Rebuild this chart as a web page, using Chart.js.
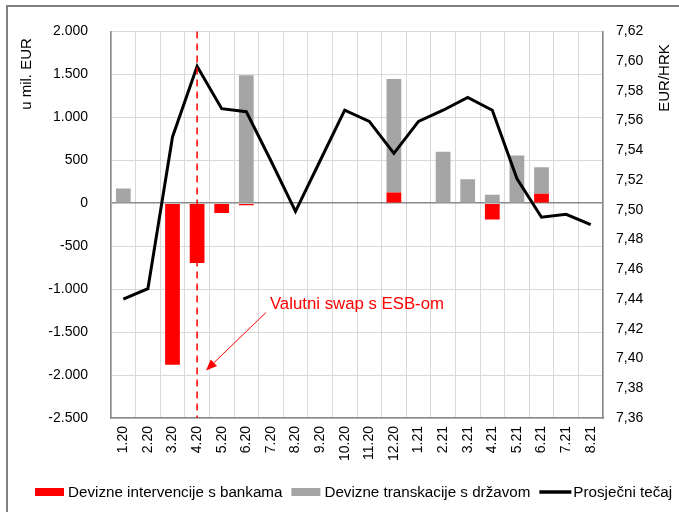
<!DOCTYPE html>
<html>
<head>
<meta charset="utf-8">
<script src="https://cdn.jsdelivr.net/npm/chart.js@4"></script>
<style>
  html, body { margin: 0; padding: 0; background: #fff; }
  #wrap { width: 679px; height: 512px; position: relative; }
</style>
</head>
<body>
<div id="wrap"><canvas id="c" width="679" height="512"></canvas></div>
<script>
// ---- data ----
const categories = ['1.20','2.20','3.20','4.20','5.20','6.20','7.20','8.20','9.20','10.20','11.20','12.20',
                    '1.21','2.21','3.21','4.21','5.21','6.21','7.21','8.21'];
const interventionsBanks = [0, 0, -1880, -695, -115, -25, 0, 0, 0, 0, 0, 125, 0, 0, 0, -190, 0, 110, 0, 0];
const transactionsState  = [170, 0, 0, 0, 0, 1490, 0, 0, 0, 0, 0, 1320, 0, 600, 280, 100, 555, 310, 0, 0];
const avgRate = [7.440, 7.447, 7.549, 7.5965, 7.568, 7.566, 7.533, 7.499, 7.533, 7.567, 7.5595, 7.538,
                 7.5595, 7.567, 7.5756, 7.567, 7.521, 7.495, 7.497, 7.490];
const seriesNames = ['Devizne intervencije s bankama', 'Devizne transkacije s državom', 'Prosječni tečaj'];
const leftTicks = { min: -2500, max: 2000, step: 500 };
const rightTicks = { min: 7.36, max: 7.62, step: 0.02 };
const leftTitle = 'u mil. EUR';
const rightTitle = 'EUR/HRK';
const swapLabel = 'Valutni swap s ESB-om';
const swapIndex = 3;          // category of the ECB swap line (4.20)
const swapTextAt = { i: 5.96, v: -1178 };
const swapArrowFrom = { i: 5.8, v: -1272 };
const swapArrowTo = { i: 3.36, v: -1946 };

const FONT = "'Liberation Sans', Arial, sans-serif";
const RED = '#ff0000', GRAY = '#a5a5a5', AXIS = '#898989', GRID = '#d9d9d9';

function fmtLeft(v) {
  const neg = v < 0; let s = String(Math.abs(Math.round(v)));
  s = s.replace(/\B(?=(\d{3})+(?!\d))/g, '.');
  return (neg ? '-' : '') + s;
}
function fmtRight(v) { return v.toFixed(2).replace('.', ','); }

const decorPlugin = {
  id: 'decor',
  afterDatasetsDraw(chart) {
    const { ctx, chartArea: a, scales } = chart;
    const x = scales.x, y = scales.y;
    ctx.save();
    // dashed swap line
    const sx = x.getPixelForValue(swapIndex);
    ctx.strokeStyle = RED; ctx.lineWidth = 1.5; ctx.setLineDash([7, 5]);
    ctx.beginPath(); ctx.moveTo(sx, a.top); ctx.lineTo(sx, a.bottom); ctx.stroke();
    ctx.setLineDash([]);
    // arrow
    const idxPx = (i) => x.getPixelForValue(0) + i * (x.getPixelForValue(1) - x.getPixelForValue(0));
    const fx = idxPx(swapArrowFrom.i), fy = y.getPixelForValue(swapArrowFrom.v);
    const tx = idxPx(swapArrowTo.i), ty = y.getPixelForValue(swapArrowTo.v);
    const ang = Math.atan2(ty - fy, tx - fx);
    const hl = 11, hw = 4.5;
    const bx = tx - hl * Math.cos(ang), by = ty - hl * Math.sin(ang);
    ctx.lineWidth = 1; ctx.strokeStyle = RED; ctx.fillStyle = RED;
    ctx.beginPath(); ctx.moveTo(fx, fy); ctx.lineTo(bx, by); ctx.stroke();
    ctx.beginPath();
    ctx.moveTo(tx, ty);
    ctx.lineTo(bx + hw * Math.sin(ang), by - hw * Math.cos(ang));
    ctx.lineTo(bx - hw * Math.sin(ang), by + hw * Math.cos(ang));
    ctx.closePath(); ctx.fill();
    // label
    ctx.font = '16.8px ' + FONT; ctx.textAlign = 'left'; ctx.textBaseline = 'middle';
    ctx.fillText(swapLabel, idxPx(swapTextAt.i), y.getPixelForValue(swapTextAt.v));
    ctx.restore();
  },
  afterDraw(chart) {
    const { ctx } = chart;
    ctx.save();
    // frame
    ctx.strokeStyle = '#808080'; ctx.lineWidth = 2;
    ctx.beginPath(); ctx.moveTo(7, 512); ctx.lineTo(7, 6); ctx.lineTo(679, 6); ctx.stroke();
    // axis titles
    ctx.fillStyle = '#000'; ctx.font = '15px ' + FONT; ctx.textAlign = 'center'; ctx.textBaseline = 'middle';
    ctx.save(); ctx.translate(27, 74); ctx.rotate(-Math.PI / 2); ctx.fillText(leftTitle, 0, 0); ctx.restore();
    ctx.save(); ctx.translate(665, 78); ctx.rotate(-Math.PI / 2); ctx.fillText(rightTitle, 0, 0); ctx.restore();
    // legend
    ctx.font = '15.2px ' + FONT; ctx.textAlign = 'left'; ctx.textBaseline = 'middle';
    let lx = 35; const ly = 492;
    const ds = chart.data.datasets;
    ds.forEach((d, k) => {
      if (d.type === 'line') {
        ctx.strokeStyle = d.borderColor; ctx.lineWidth = 3.5;
        ctx.beginPath(); ctx.moveTo(lx, ly); ctx.lineTo(lx + 32, ly); ctx.stroke();
        ctx.fillStyle = '#000';
        ctx.fillText(d.label, lx + 34, ly + 0.5);
        lx += 34 + ctx.measureText(d.label).width + 9;
      } else {
        ctx.fillStyle = d.backgroundColor; ctx.fillRect(lx, ly - 4, 29, 8);
        ctx.fillStyle = '#000';
        ctx.fillText(d.label, lx + 33, ly + 0.5);
        lx += 33 + ctx.measureText(d.label).width + 9;
      }
    });
    ctx.restore();
  }
};

new Chart(document.getElementById('c'), {
  type: 'bar',
  data: {
    labels: categories,
    datasets: [
      { label: seriesNames[0], data: interventionsBanks, backgroundColor: RED, yAxisID: 'y', order: 2,
        categoryPercentage: 0.6, barPercentage: 1 },
      { label: seriesNames[1], data: transactionsState, backgroundColor: GRAY, yAxisID: 'y', order: 2,
        categoryPercentage: 0.6, barPercentage: 1 },
      { type: 'line', label: seriesNames[2], data: avgRate, borderColor: '#000', backgroundColor: '#000',
        borderWidth: 3, pointRadius: 0, tension: 0, yAxisID: 'y1', order: 0 }
    ]
  },
  options: {
    responsive: false, animation: false,
    layout: { padding: { top: 31, left: 0, right: 0, bottom: 0 } },
    plugins: { legend: { display: false }, tooltip: { enabled: false } },
    scales: {
      x: {
        stacked: true,
        grid: { color: GRID, lineWidth: 1, drawTicks: false, offset: true },
        border: { color: AXIS, width: 1.5 },
        ticks: { color: '#000', font: { family: FONT, size: 14 }, minRotation: 90, maxRotation: 90,
                 autoSkip: false, padding: 8 },
        afterFit(s) { s.height = 94; }
      },
      y: {
        stacked: true, position: 'left',
        min: leftTicks.min, max: leftTicks.max,
        grid: { color: (c) => c.tick && c.tick.value === 0 ? AXIS : GRID, lineWidth: (c) => c.tick && c.tick.value === 0 ? 1.5 : 1, drawTicks: false },
        border: { color: AXIS, width: 1.5 },
        ticks: { stepSize: leftTicks.step, color: '#000', font: { family: FONT, size: 14 }, padding: 23,
                 callback: (v) => fmtLeft(v) },
        afterFit(s) { s.width = 111; }
      },
      y1: {
        stacked: false, position: 'right',
        min: rightTicks.min, max: rightTicks.max,
        grid: { drawOnChartArea: false, drawTicks: false },
        border: { color: AXIS, width: 1.5 },
        ticks: { stepSize: rightTicks.step, color: '#000', font: { family: FONT, size: 14 }, padding: 13,
                 callback: (v) => fmtRight(v) },
        afterFit(s) { s.width = 76; }
      }
    }
  },
  plugins: [decorPlugin]
});
</script>
</body>
</html>
